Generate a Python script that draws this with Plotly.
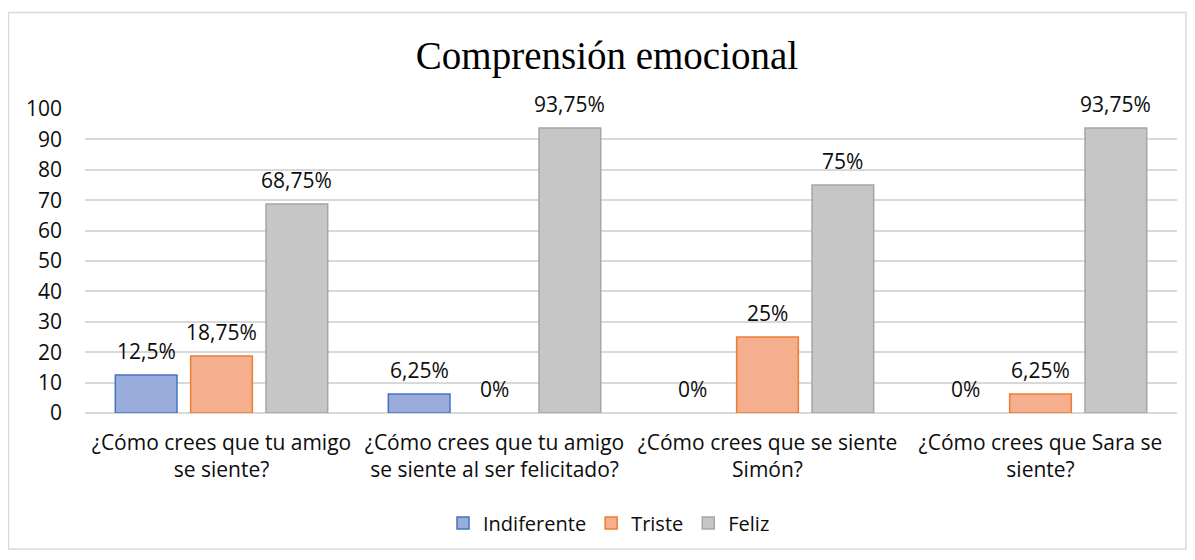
import plotly.graph_objects as go

categories = ["¿Cómo crees que tu amigo<br>se siente?",
              "¿Cómo crees que tu amigo<br>se siente al ser felicitado?",
              "¿Cómo crees que se siente<br>Simón?",
              "¿Cómo crees que Sara se<br>siente?"]
indiferente = [12.5, 6.25, 0, 0]
triste = [18.75, 0, 25, 6.25]
feliz = [68.75, 93.75, 75, 93.75]
labels_ind = ["12,5%", "6,25%", "0%", "0%"]
labels_tri = ["18,75%", "0%", "25%", "6,25%"]
labels_fel = ["68,75%", "93,75%", "75%", "93,75%"]
yticks = [0, 10, 20, 30, 40, 50, 60, 70, 80, 90, 100]

FONT = "'Open Sans', sans-serif"
FS = 21
TXT = "#0d0d0d"
OFF = 8  # page body margin
W, H = 1195 - OFF, 560 - OFF
L, R, T, B = 85 - OFF, 1195 - 1177, 109 - OFF, 560 - 413
pw = W - L - R
ph = H - T - B


def px_x(x):
    return (x - OFF - L) / pw


def px_y(y):
    return (ph - (y - OFF - T)) / ph


series = [
    ("Indiferente", indiferente, labels_ind, "#9aacdc", "#4472c4"),
    ("Triste", triste, labels_tri, "#f5ae8e", "#ed7d31"),
    ("Feliz", feliz, labels_fel, "#c6c6c6", "#a5a5a5"),
]
offs = [-0.276, 0.0, 0.276]
bw = 0.226

fig = go.Figure()
anns = []
for (name, vals, labs, fill, line), off in zip(series, offs):
    xs = [i + off for i in range(len(categories))]
    fig.add_trace(go.Bar(
        name=name, x=xs, y=vals, width=bw,
        marker=dict(color=fill, line=dict(color=line, width=[1.5 if v > 0 else 0 for v in vals])),
    ))
    for x, v, t in zip(xs, vals, labs):
        anns.append(dict(x=x, y=v, xref="x", yref="y", text=t, showarrow=False,
                         yanchor="bottom", yshift=8,
                         font=dict(family=FONT, size=FS, color=TXT)))

fig.update_layout(
    width=W, height=H,
    margin=dict(l=L, r=R, t=T, b=B, autoexpand=False),
    paper_bgcolor="white", plot_bgcolor="white",
    barmode="overlay",
    title=dict(text="Comprensión emocional", x=(607 - OFF) / W, xanchor="center",
               y=1 - (55 - OFF) / H, yanchor="middle", xref="container", yref="container",
               font=dict(family="'Liberation Serif', 'Times New Roman', serif", size=39, color="#000000")),
    font=dict(family=FONT, size=FS, color=TXT),
    legend=dict(orientation="h", x=px_x(609), xanchor="center",
                y=px_y(523), yanchor="middle",
                font=dict(family=FONT, size=20, color=TXT),
                itemwidth=30, traceorder="normal"),
    annotations=anns,
    showlegend=True,
)
fig.update_xaxes(range=[-0.5, 3.5], tickvals=list(range(len(categories))), ticktext=categories,
                 showgrid=False, zeroline=False, showline=False, ticks="", automargin=False,
                 ticklabelstandoff=15,
                 tickfont=dict(family=FONT, size=FS, color=TXT))
fig.update_yaxes(range=[0, 100], tickvals=yticks, showgrid=True, gridcolor="#d9d9d9", gridwidth=1.5,
                 zeroline=True, zerolinecolor="#d9d9d9", zerolinewidth=1.5, showline=False, ticks="",
                 ticklabelstandoff=22, automargin=False,
                 tickfont=dict(family=FONT, size=FS, color=TXT))
fig.add_shape(type="rect", xref="paper", yref="paper",
              x0=px_x(8.5), x1=px_x(1186),
              y0=px_y(549), y1=px_y(12.5),
              line=dict(color="#d9d9d9", width=1.5), fillcolor="rgba(0,0,0,0)", layer="below")

fig.write_html("out.html")
